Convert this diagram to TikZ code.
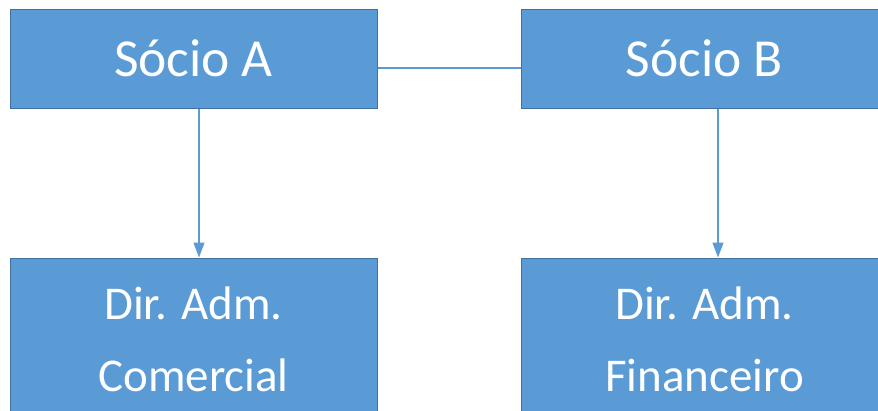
\documentclass[tikz,border=0pt]{standalone}
\usepackage{fontspec}
\setmainfont{Carlito}
\usetikzlibrary{arrows.meta,positioning}
\definecolor{boxblue}{HTML}{5B9BD5}
\definecolor{boxedge}{HTML}{41719C}

\begin{document}
\begin{tikzpicture}[x=1pt, y=-1pt, box/.style={rectangle, draw=boxedge, line width=1pt, fill=boxblue, text=white, align=center, inner sep=0pt, minimum width=367pt}, link/.style={draw=boxblue, line width=1.3pt}, arr/.style={link, -{Triangle[width=11pt, length=15pt]}}]
  \useasboundingbox (0,0) rectangle (878,410);
  \node[box, minimum height=99pt, font=\fontsize{53.5}{64}\selectfont] (socioA) at (193.5,58.5) {Sócio A};
  \node[box, minimum height=99pt, font=\fontsize{53.5}{64}\selectfont] (socioB) at (704.5,58.5) {Sócio B};
  \node[box, minimum height=163pt, font=\fontsize{47}{72}\selectfont] (dirCom) at (193.5,339.5) {Dir. Adm.\\Comercial};
  \node[box, minimum height=163pt, font=\fontsize{47}{72}\selectfont] (dirFin) at (704.5,339.5) {Dir. Adm.\\Financeiro};
  \draw[link] (socioA.east |- 0,68) -- (socioB.west |- 0,68);
  \draw[arr] (socioA.south -| 199,0) -- (dirCom.north -| 199,0);
  \draw[arr] (socioB.south -| 718,0) -- (dirFin.north -| 718,0);
\end{tikzpicture}
\end{document}
